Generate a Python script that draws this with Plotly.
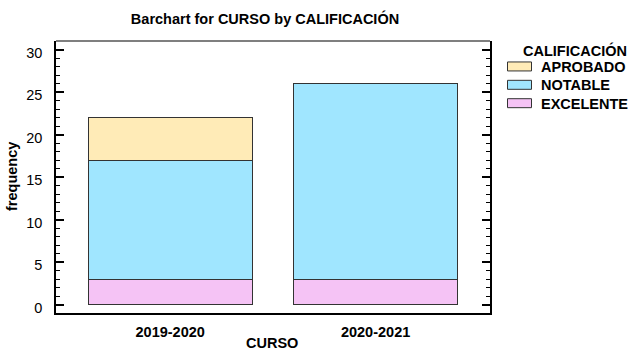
import plotly.graph_objects as go

cursos = ["2019-2020", "2020-2021"]
categorias = ["EXCELENTE", "NOTABLE", "APROBADO"]
excelente = [3, 3]
notable = [14, 23]
aprobado = [5, 0]
colores = {"EXCELENTE": "#F5C3F5", "NOTABLE": "#A0E6FF", "APROBADO": "#FFEBB7"}
valores = {"EXCELENTE": excelente, "NOTABLE": notable, "APROBADO": aprobado}

FONT = "Liberation Sans, Arial, sans-serif"
FS = 14.5

fig = go.Figure()
for cat in categorias:
    fig.add_trace(go.Bar(
        x=cursos, y=valores[cat], name=cat,
        marker=dict(color=colores[cat], line=dict(color="#333333", width=1)),
        showlegend=False,
    ))

W, H = 633, 351
L, R, T, B = 56, 143, 41, 37.5

fig.update_layout(
    width=W, height=H,
    margin=dict(l=L, r=R, t=T, b=B, pad=0),
    barmode="stack", bargap=0.2,
    plot_bgcolor="white", paper_bgcolor="white",
    font=dict(family=FONT, size=FS, color="black"),
    title=dict(text="<b>Barchart for CURSO by CALIFICACIÓN</b>",
               x=265 / W, xanchor="center", xref="container",
               y=1 - 19 / H, yanchor="middle", yref="container",
               font=dict(size=FS)),
    xaxis=dict(
        type="category", range=[-0.556, 1.557],
        showline=True, linecolor="black", linewidth=2, mirror=False,
        ticks="", showgrid=False, zeroline=False,
        tickfont=dict(size=FS, family=FONT), ticklabelstandoff=5,
        tickprefix="<b>", ticksuffix="</b>",
        automargin=False,
    ),
    yaxis=dict(
        range=[-1, 31], showline=True, linecolor="black", linewidth=1.5,
        mirror="ticks", ticks="inside", ticklen=8, tickwidth=1.5, tickcolor="black",
        tickvals=[0, 5, 10, 15, 20, 25, 30],
        minor=dict(dtick=1, ticks="inside", ticklen=4, tickwidth=1.2, tickcolor="black", showgrid=False),
        showgrid=False, zeroline=False,
        tickfont=dict(size=FS, family=FONT), ticklabelstandoff=9,
        ticklabelshift=3,
        tickprefix="<b>", ticksuffix="</b>",
        automargin=False,
    ),
)

# top border of the plot box
fig.add_shape(type="line", xref="paper", yref="paper", x0=0, x1=1, y0=1, y1=1,
              line=dict(color="black", width=1.2))

pw, ph = W - L - R, H - T - B
def px(xp):
    return (xp - L) / pw
def py(yp):
    return (H - B - yp) / ph

# axis titles
fig.add_annotation(text="<b>CURSO</b>", xref="paper", yref="paper",
                   x=px(272), y=py(344), xanchor="center", yanchor="middle",
                   showarrow=False, font=dict(size=FS))
fig.add_annotation(text="<b>frequency</b>", xref="paper", yref="paper",
                   x=px(12), y=0.5, xanchor="center", yanchor="middle",
                   textangle=-90, showarrow=False, font=dict(size=FS))

# legend (manual, to match the wide swatches)
fig.add_annotation(text="<b>CALIFICACIÓN</b>", xref="paper", yref="paper",
                   x=px(575), y=py(51), xanchor="center", yanchor="middle",
                   showarrow=False, font=dict(size=FS))
leg_order = ["APROBADO", "NOTABLE", "EXCELENTE"]
for i, cat in enumerate(leg_order):
    yc = 66.5 + 18.4 * i
    fig.add_shape(type="rect", xref="paper", yref="paper",
                  x0=px(507.5), x1=px(531.5), y0=py(yc - 4.5), y1=py(yc + 4.5),
                  fillcolor=colores[cat], line=dict(color="#333333", width=1))
    fig.add_annotation(text=f"<b>{cat}</b>", xref="paper", yref="paper",
                       x=px(539), y=py(yc + 0.5), xanchor="left", yanchor="middle",
                       showarrow=False, font=dict(size=FS))

fig.write_html("out.html")
